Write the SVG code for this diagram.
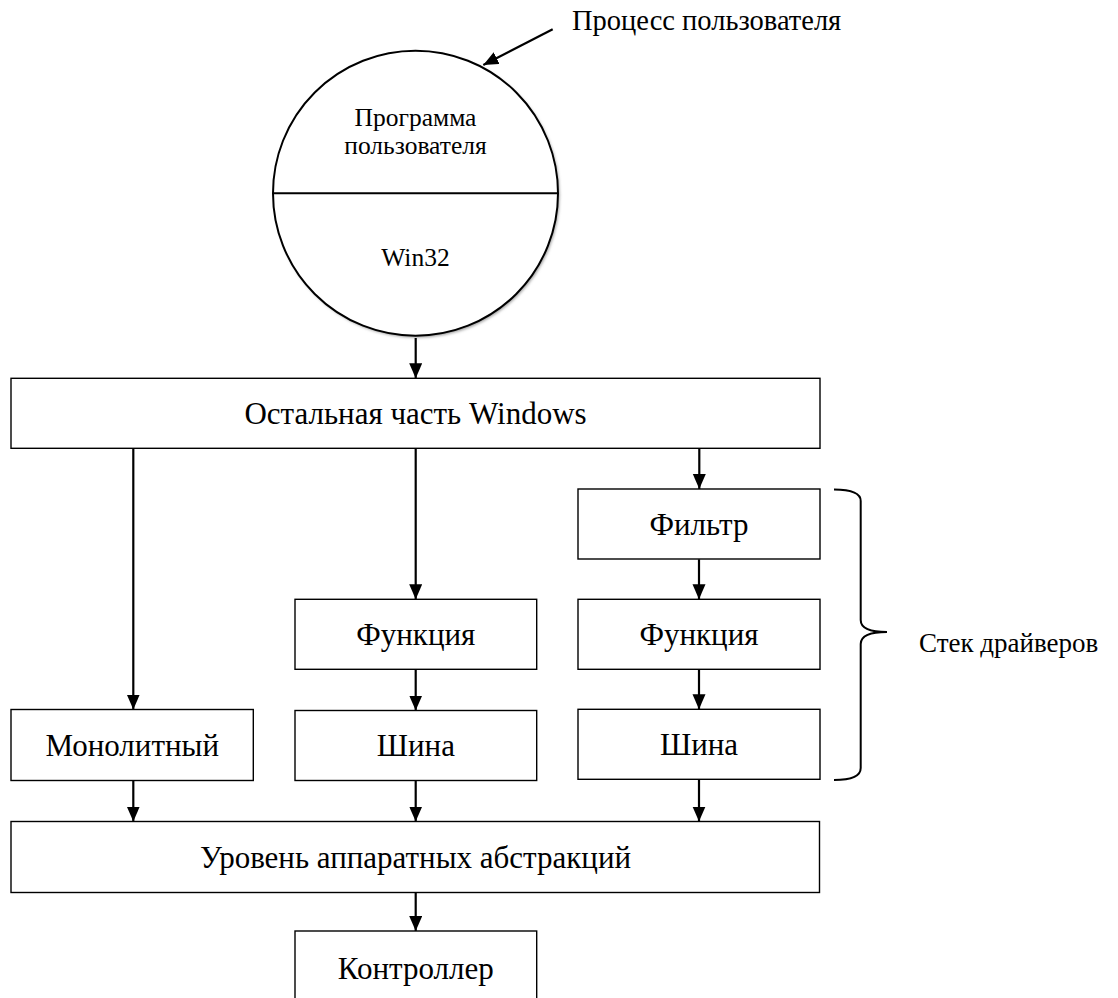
<svg xmlns="http://www.w3.org/2000/svg" width="1118" height="998" viewBox="0 0 1118 998">
  <defs>
    <style>
      .box { fill: #ffffff; stroke: #000000; stroke-width: 1.4; }
      .lbl { font-family: "Liberation Serif", "DejaVu Serif", serif; font-size: 31px; fill: #000000; text-anchor: middle; }
      .sm { font-family: "Liberation Serif", "DejaVu Serif", serif; font-size: 25.5px; fill: #000000; }
      .conn { stroke: #000000; stroke-width: 2.2; fill: none; marker-end: url(#arrow); }
    </style>
    <marker id="arrow" markerUnits="userSpaceOnUse" markerWidth="15" markerHeight="16" viewBox="0 0 15 16" refX="15" refY="6.5" orient="auto">
      <path d="M0,0 L15,6.5 L0,13 Z" fill="#000000"/>
    </marker>
    <filter id="shadow" x="-10%" y="-10%" width="120%" height="120%">
      <feGaussianBlur stdDeviation="1.5"/>
    </filter>
  </defs>

  <g id="user-process-label">
    <text class="sm" x="572" y="30" style="font-size:28.5px">Процесс пользователя</text>
  </g>

  <g id="user-process">
    <circle cx="417" cy="195" r="142.5" fill="#9a9a9a" filter="url(#shadow)"/>
    <circle cx="415.5" cy="193.2" r="142.5" fill="#ffffff" stroke="#000000" stroke-width="2"/>
    <line x1="273" y1="193.3" x2="558" y2="193.3" stroke="#000000" stroke-width="2"/>
    <text class="sm" x="415.5" y="126" text-anchor="middle">Программа</text>
    <text class="sm" x="415.5" y="153.5" text-anchor="middle">пользователя</text>
    <text class="sm" x="415.5" y="266" text-anchor="middle">Win32</text>
  </g>

  <g id="rest-of-windows">
    <rect class="box" x="11" y="378.3" width="809" height="70"/>
    <text class="lbl" x="415.5" y="424">Остальная часть Windows</text>
  </g>

  <g id="monolithic">
    <rect class="box" x="11" y="709.5" width="242.3" height="71"/>
    <text class="lbl" x="132.2" y="755.5">Монолитный</text>
  </g>

  <g id="function-1">
    <rect class="box" x="295" y="599.3" width="241.7" height="70"/>
    <text class="lbl" x="415.8" y="645">Функция</text>
  </g>

  <g id="bus-1">
    <rect class="box" x="295" y="710.5" width="241.7" height="70"/>
    <text class="lbl" x="415.8" y="756">Шина</text>
  </g>

  <g id="filter">
    <rect class="box" x="578" y="489" width="242" height="70"/>
    <text class="lbl" x="699" y="534.5">Фильтр</text>
  </g>

  <g id="function-2">
    <rect class="box" x="578" y="599.3" width="242" height="70"/>
    <text class="lbl" x="699" y="645">Функция</text>
  </g>

  <g id="bus-2">
    <rect class="box" x="578" y="709.3" width="242" height="70"/>
    <text class="lbl" x="699" y="755">Шина</text>
  </g>

  <g id="hal">
    <rect class="box" x="11" y="821.5" width="808.5" height="71"/>
    <text class="lbl" x="415.5" y="867.5">Уровень аппаратных абстракций</text>
  </g>

  <g id="controller">
    <rect class="box" x="295" y="931" width="241.7" height="80"/>
    <text class="lbl" x="415.8" y="978.5">Контроллер</text>
  </g>

  <g id="driver-stack">
    <path d="M834,489.5 Q860.7,489.5 860.7,501 L860.7,620 Q860.7,632 887,632 Q860.7,632 860.7,644 L860.7,768 Q860.7,780 834,780" fill="none" stroke="#000000" stroke-width="2"/>
    <text class="sm" x="919" y="652" style="font-size:27px">Стек драйверов</text>
  </g>

  <g id="connectors">
    <line class="conn" x1="552.7" y1="29.3" x2="483.3" y2="65"/>
    <line class="conn" x1="415.7" y1="338" x2="415.7" y2="378.3"/>
    <line class="conn" x1="133.3" y1="448.3" x2="133.3" y2="709.5"/>
    <line class="conn" x1="415.7" y1="448.3" x2="415.7" y2="599.3"/>
    <line class="conn" x1="699.3" y1="448.3" x2="699.3" y2="489"/>
    <line class="conn" x1="699" y1="559.3" x2="699" y2="599.3"/>
    <line class="conn" x1="699" y1="669.3" x2="699" y2="709.3"/>
    <line class="conn" x1="415.7" y1="669.3" x2="415.7" y2="710.5"/>
    <line class="conn" x1="133.3" y1="780.5" x2="133.3" y2="821.5"/>
    <line class="conn" x1="415.7" y1="780.5" x2="415.7" y2="821.5"/>
    <line class="conn" x1="699" y1="779.3" x2="699" y2="821.5"/>
    <line class="conn" x1="415.7" y1="892.3" x2="415.7" y2="931"/>
  </g>
</svg>
